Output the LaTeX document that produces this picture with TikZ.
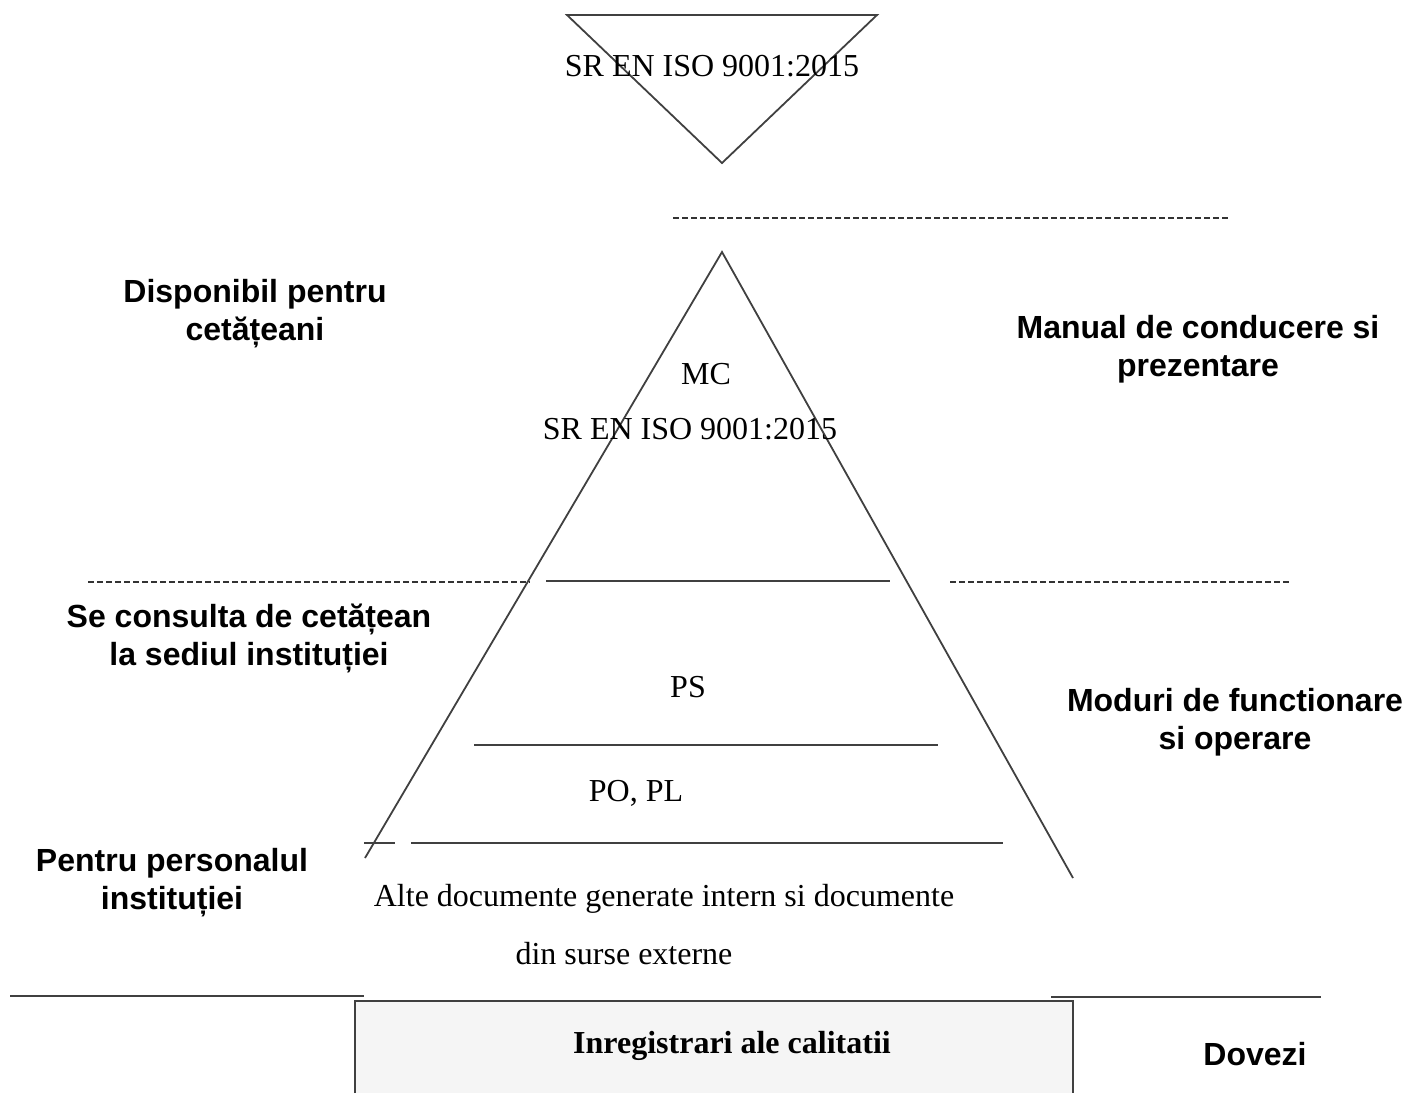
\documentclass[tikz,border=0pt]{standalone}
\usepackage{fontspec}
\setmainfont{Liberation Serif}
\setsansfont{Liberation Sans}

\tikzset{every picture/.style={line width=1.8pt}}
\tikzset{
  doc text/.style={font=\fontsize{32}{38}\selectfont, inner sep=0pt},
  side text/.style={font=\fontsize{32}{38}\sffamily\bfseries, align=center, inner sep=0pt},
  sep dashed/.style={draw=black!80, line width=2.4pt, dash pattern=on 6pt off 3pt},
  level line/.style={draw=black!75}
}

\begin{document}
\begin{tikzpicture}[x=1pt,y=1pt,yscale=-1,xscale=1]
	\useasboundingbox (0,0) rectangle (1416,1093);

	%Shape: Triangle (top, inverted)
	\draw [draw=black!75] (567,15) -- (877,15) -- (722,163) -- cycle ;
	%Shape: Pyramid
	\draw [draw=black!75] (365,858) -- (722,252) -- (1073,878) ;

	%Straight Lines (pyramid levels)
	\draw [level line] (546,581) -- (890,581) ;
	\draw [level line] (474,745) -- (938,745) ;
	\draw [level line] (364,843) -- (395,843) ;
	\draw [level line] (411,843) -- (1003,843) ;

	%Dashed Lines
	\draw [sep dashed] (673,218) -- (1228,218) ;
	\draw [sep dashed] (88,582) -- (530,582) ;
	\draw [sep dashed] (950,582) -- (1290,582) ;

	%Straight Lines (bottom)
	\draw [level line] (10,996) -- (364,996) ;
	\draw [level line] (1051,997) -- (1321,997) ;

	%Shape: Records box
	\fill [black!4] (355,1001) rectangle (1073,1093) ;
	\draw [level line] (355,1093) -- (355,1001) -- (1073,1001) -- (1073,1093) ;

	% Text Node
	\node [doc text] (isotop) at (712,66) {SR EN ISO 9001:2015};
	% Text Node
	\node [doc text] (mc) at (706,374) {MC};
	% Text Node
	\node [doc text] (isomc) at (690,429) {SR EN ISO 9001:2015};
	% Text Node
	\node [doc text] (ps) at (688,687) {PS};
	% Text Node
	\node [doc text] (popl) at (636,793) {PO, PL};
	% Text Node
	\node [doc text] (alte) at (664,899) {Alte documente generate intern si documente};
	% Text Node
	\node [doc text] (surse) at (624,954) {din surse externe};
	% Text Node
	\node [doc text, font=\fontsize{32}{38}\bfseries] (inreg) at (732,1046) {Inregistrari ale calitatii};

	% Text Node
	\node [side text] (disp) at (255,314) {Disponibil pentru\\cetățeani};
	% Text Node
	\node [side text] (manual) at (1198,349) {Manual de conducere si\\prezentare};
	% Text Node
	\node [side text] (consulta) at (249,638) {Se consulta de cetățean\\la sediul instituției};
	% Text Node
	\node [side text] (moduri) at (1235,722) {Moduri de functionare\\si operare};
	% Text Node
	\node [side text] (personal) at (172,883) {Pentru personalul\\instituției};
	% Text Node
	\node [side text] (dovezi) at (1255,1054) {Dovezi};

\end{tikzpicture}
\end{document}
